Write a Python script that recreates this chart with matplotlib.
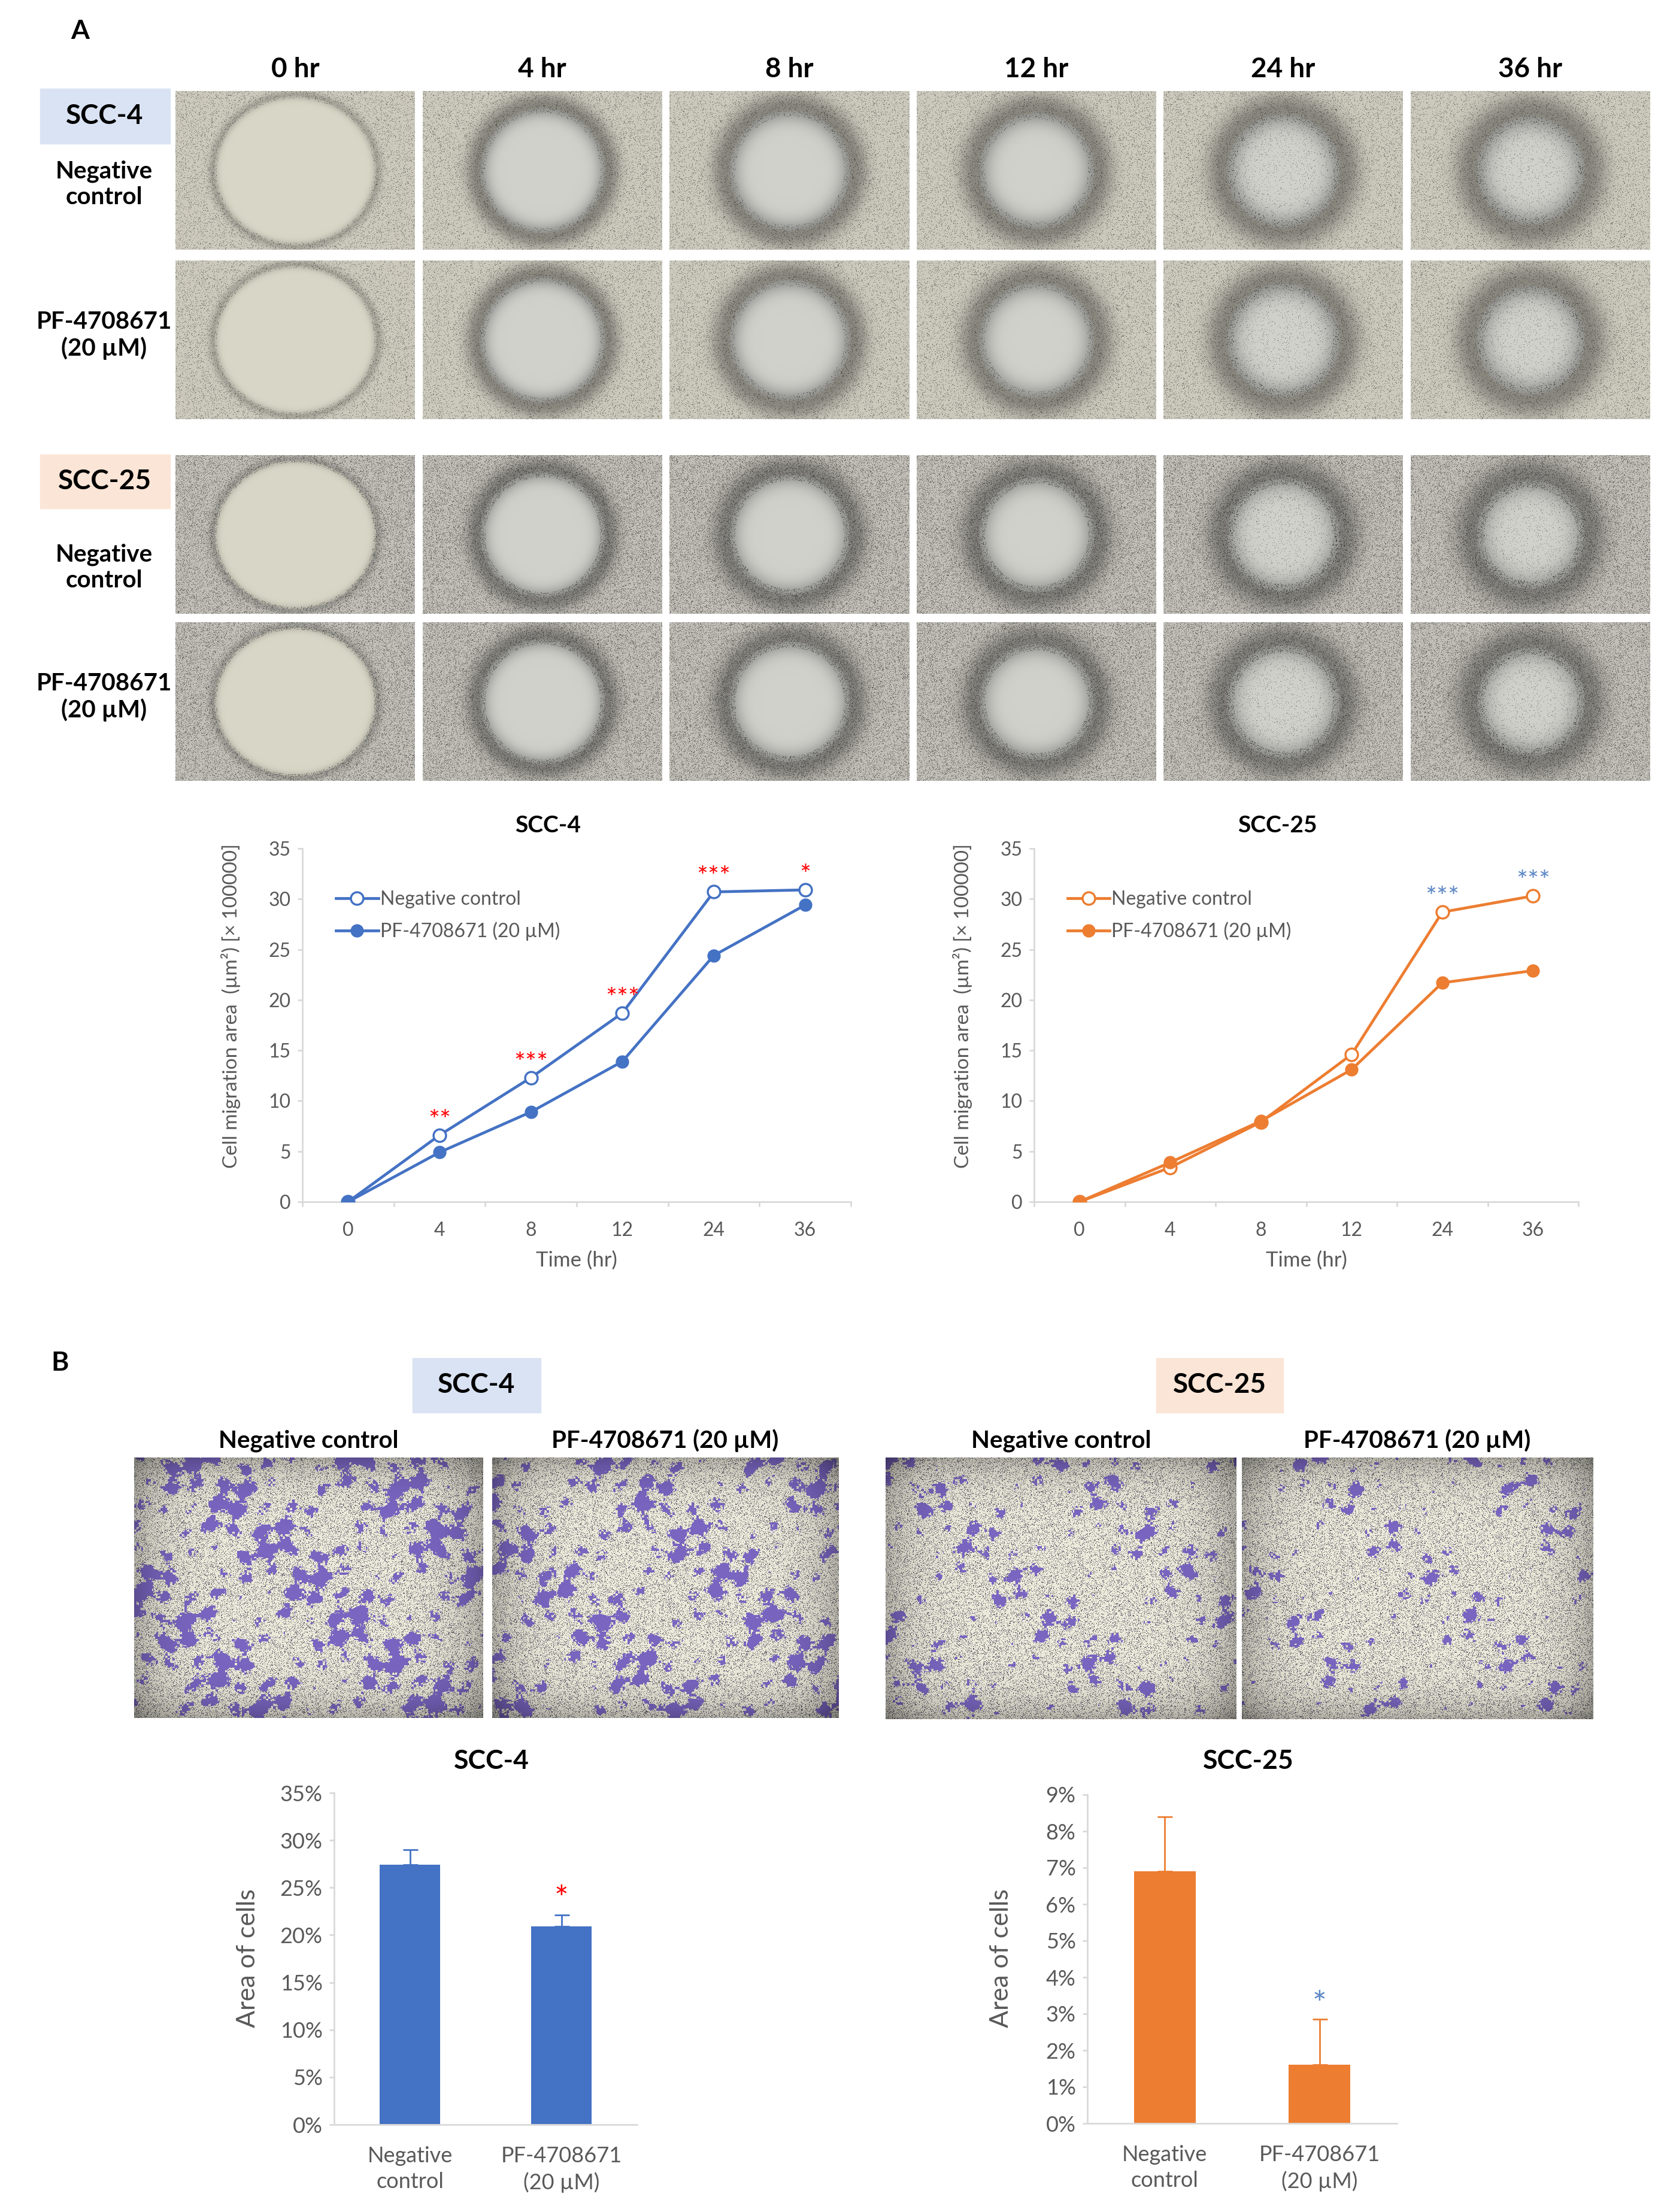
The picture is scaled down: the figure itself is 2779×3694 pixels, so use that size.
import numpy as np
import matplotlib
matplotlib.use("Agg")
import matplotlib.pyplot as plt
from matplotlib.patches import Rectangle
from matplotlib.ticker import PercentFormatter

plt.rcParams['font.family'] = ['Lato', 'DejaVu Sans']

# ------------------------------------------------------------
# DATA
# ------------------------------------------------------------
time_points = ["0", "4", "8", "12", "24", "36"]
time_headers = ["0 hr", "4 hr", "8 hr", "12 hr", "24 hr", "36 hr"]

# cell migration area, x 100000 um^2
scc4_ctrl = [0.0, 6.6, 12.3, 18.7, 30.7, 30.9]
scc4_ctrl_err = [0.1, 0.2, 0.3, 0.3, 0.2, 0.3]
scc4_pf = [0.0, 4.9, 8.9, 13.9, 24.4, 29.4]
scc4_pf_err = [0.1, 0.2, 0.2, 0.3, 0.3, 0.4]
scc4_sig = ["", "**", "***", "***", "***", "*"]

scc25_ctrl = [0.0, 3.4, 7.9, 14.6, 28.7, 30.3]
scc25_ctrl_err = [0.1, 0.2, 0.2, 0.4, 0.3, 0.3]
scc25_pf = [0.0, 3.9, 8.0, 13.1, 21.7, 22.9]
scc25_pf_err = [0.1, 0.2, 0.2, 0.4, 0.5, 0.5]
scc25_sig = ["", "", "", "", "***", "***"]

# transwell: area of cells (%)
bar_groups = ["Negative\ncontrol", "PF-4708671\n(20 µM)"]
scc4_area = [27.4, 20.9]
scc4_area_err = [1.6, 1.2]
scc4_area_sig = ["", "*"]
scc25_area = [6.9, 1.6]
scc25_area_err = [1.5, 1.25]
scc25_area_sig = ["", "*"]

BLUE = "#4472C4"
ORANGE = "#ED7D31"
GREY_TXT = "#595959"
AXIS_GREY = "#D9D9D9"
BOX_BLUE = "#DAE3F3"
BOX_PEACH = "#FBE5D6"

W, H = 2779, 3694
fig = plt.figure(figsize=(W / 100, H / 100), dpi=100)


def add_ax(x0, y0, x1, y1):
    # pixel box (top-left origin) -> figure axes
    return fig.add_axes([x0 / W, 1 - y1 / H, (x1 - x0) / W, (y1 - y0) / H])


def ftext(x, y, s, **kw):
    kw.setdefault("ha", "center")
    kw.setdefault("va", "center")
    fig.text(x / W, 1 - y / H, s, **kw)


def fbox(x0, y0, x1, y1, color):
    fig.patches.append(Rectangle((x0 / W, 1 - y1 / H), (x1 - x0) / W, (y1 - y0) / H,
                                 transform=fig.transFigure, color=color, zorder=0))


def hash2(xx, yy, seed):
    v = np.sin(xx * 12.9898 + yy * 78.233 + seed * 37.719) * 43758.5453
    return v - np.floor(v)


# ------------------------------------------------------------
# PLACEHOLDER MICROSCOPY TILES (decoration only, not data)
# ------------------------------------------------------------
def wound_tile(col, seed, dense, h=265, w=400):
    yy, xx = np.mgrid[0:h, 0:w].astype(float)
    r = np.hypot((xx - w / 2) * (0.92 if col == 0 else 1.0), yy - h / 2)
    radius = [124, 104, 100, 96, 94, 90][col]
    ring = [8, 20, 24, 26, 28, 30][col]
    bg = [0.80, 0.79, 0.74] if not dense else [0.76, 0.75, 0.72]
    img = np.ones((h, w, 3)) * np.array(bg)
    inner = [0.85, 0.84, 0.78] if col == 0 else [0.82, 0.82, 0.80]
    img[r < radius] = inner
    ringmask = np.exp(-((r - radius - ring * 0.3) / ring) ** 2)
    img *= (1 - (0.18 if col == 0 else 0.33) * ringmask)[..., None]
    n = hash2(xx, yy, seed)
    thr = 0.80 if dense else 0.90
    spk = (n > thr) & (r > radius - ring * 0.4)
    img[spk] *= 0.6
    if col >= 4:
        img[(n > 0.95) & (r < radius)] *= 0.65
    return np.clip(img, 0, 1)


def transwell_tile(level, seed, h=436, w=584):
    yy, xx = np.mgrid[0:h, 0:w].astype(float)
    img = np.ones((h, w, 3)) * np.array([0.93, 0.92, 0.86])
    n = hash2(xx, yy, seed)
    img[n > 0.82] = [0.40, 0.39, 0.44]
    blob = (np.sin(0.15 * xx + 1.7 * np.sin(0.041 * yy + seed))
            + np.sin(0.17 * yy + 1.3 * np.sin(0.053 * xx + 1.0))
            + np.sin(0.047 * (xx + yy) + seed)
            + np.sin(0.021 * (xx - yy) + 2.0 * seed)
            + 1.8 * hash2(xx // 4, yy // 4, seed + 1))
    img[blob > (3.7 - 2.0 * level)] = [0.48, 0.40, 0.76]
    vig = 1 - 0.25 * (((xx - w / 2) / (w / 2)) ** 6 + ((yy - h / 2) / (h / 2)) ** 6)
    img *= vig[..., None]
    return np.clip(img, 0, 1)


def show_img(box, img):
    ax = add_ax(*box)
    ax.imshow(img, aspect="auto", interpolation="nearest")
    ax.axis("off")


# ------------------------------------------------------------
# PANEL A: wound-healing tiles
# ------------------------------------------------------------
ftext(134, 52, "A", fontsize=32, fontweight="bold")
tile_x = [293 + i * 412.5 for i in range(6)]
tile_rows = [152, 435, 760, 1039]
for i, lab in enumerate(time_headers):
    ftext(tile_x[i] + 200, 116, lab, fontsize=33, fontweight="bold")
for r, y0 in enumerate(tile_rows):
    for c, x0 in enumerate(tile_x):
        show_img((x0, y0, x0 + 400, y0 + 265), wound_tile(c, r * 6 + c, dense=(r >= 2)))

fbox(67, 148, 284, 240, BOX_BLUE)
ftext(175, 194, "SCC-4", fontsize=33, fontweight="bold")
ftext(174, 308, "Negative\ncontrol", fontsize=29, fontweight="bold", linespacing=1.2)
ftext(174, 560, "PF-4708671\n(20 µM)", fontsize=29, fontweight="bold", linespacing=1.2)
fbox(67, 759, 284, 849, BOX_PEACH)
ftext(175, 804, "SCC-25", fontsize=33, fontweight="bold")
ftext(174, 948, "Negative\ncontrol", fontsize=29, fontweight="bold", linespacing=1.2)
ftext(174, 1164, "PF-4708671\n(20 µM)", fontsize=29, fontweight="bold", linespacing=1.2)


# ------------------------------------------------------------
# PANEL A: migration line charts
# ------------------------------------------------------------
def style_axes(ax):
    for s in ["top", "right"]:
        ax.spines[s].set_visible(False)
    for s in ["left", "bottom"]:
        ax.spines[s].set_color(AXIS_GREY)
        ax.spines[s].set_linewidth(2)


def line_chart(box, title, ctrl, ctrl_err, pf, pf_err, sig, color, sig_color):
    x0, y0, x1, y1 = box
    ax = add_ax(*box)
    x = np.arange(len(time_points))
    ax.errorbar(x, ctrl, yerr=ctrl_err, fmt="none", ecolor=color, elinewidth=1.5, capsize=3, zorder=2)
    ax.errorbar(x, pf, yerr=pf_err, fmt="none", ecolor=color, elinewidth=1.5, capsize=3, zorder=2)
    ax.plot(x, ctrl, color=color, lw=3.4, marker="o", ms=15, mfc="white", mec=color, mew=2.5,
            label="Negative control", zorder=3)
    ax.plot(x, pf, color=color, lw=3.4, marker="o", ms=15, mfc=color, mec=color,
            label="PF-4708671 (20 µM)", zorder=3)
    for xi, yi, s in zip(x, ctrl, sig):
        if s:
            ax.text(xi, yi + 1.4, s, ha="center", va="center", color=sig_color, fontsize=32)
    ax.set_xlim(-0.5, len(x) - 0.5)
    ax.set_ylim(0, 35)
    ax.set_yticks(range(0, 36, 5))
    ax.set_xticks(x)
    ax.set_xticklabels(time_points)
    ax.set_xticks(np.arange(-0.5, len(x), 1), minor=True)
    ax.tick_params(axis="x", which="major", length=0, pad=24, labelsize=23, labelcolor=GREY_TXT)
    ax.tick_params(axis="x", which="minor", length=6, width=2, color=AXIS_GREY)
    ax.tick_params(axis="y", length=6, width=2, color=AXIS_GREY, pad=8, labelsize=23, labelcolor=GREY_TXT)
    style_axes(ax)
    ax.legend(loc="upper left", bbox_to_anchor=(0.03, 0.93), frameon=False, fontsize=23,
              labelcolor=GREY_TXT, handlelength=2.2, handletextpad=0.1, labelspacing=0.7)
    ftext((x0 + x1) / 2 - 48, 1378, title, fontsize=28, fontweight="bold")
    ftext((x0 + x1) / 2, 2105, "Time (hr)", fontsize=25, color=GREY_TXT)
    ftext(x0 - 120, 1680, "Cell migration area  (µm²) [× 100000]", fontsize=24,
          color=GREY_TXT, rotation=90)


line_chart((505, 1417, 1421, 2007), "SCC-4", scc4_ctrl, scc4_ctrl_err, scc4_pf, scc4_pf_err,
           scc4_sig, BLUE, "#FF0000")
line_chart((1727, 1417, 2636, 2007), "SCC-25", scc25_ctrl, scc25_ctrl_err, scc25_pf, scc25_pf_err,
           scc25_sig, ORANGE, "#5B87C5")

# ------------------------------------------------------------
# PANEL B: transwell images
# ------------------------------------------------------------
ftext(100, 2276, "B", fontsize=32, fontweight="bold")
fbox(689, 2268, 903, 2359, BOX_BLUE)
ftext(796, 2313, "SCC-4", fontsize=33, fontweight="bold")
fbox(1931, 2268, 2143, 2359, BOX_PEACH)
ftext(2037, 2313, "SCC-25", fontsize=33, fontweight="bold")
for cx, lab in zip([515, 1111, 1772, 2367],
                   ["Negative control", "PF-4708671 (20 µM)", "Negative control", "PF-4708671 (20 µM)"]):
    ftext(cx, 2406, lab, fontsize=29, fontweight="bold")
show_img((224, 2434, 806, 2869), transwell_tile(0.85, 3))
show_img((822, 2434, 1401, 2869), transwell_tile(0.72, 5))
show_img((1479, 2434, 2065, 2871), transwell_tile(0.40, 7))
show_img((2074, 2434, 2661, 2871), transwell_tile(0.25, 9))


# ------------------------------------------------------------
# PANEL B: area bar charts
# ------------------------------------------------------------
def bar_chart(box, title, vals, errs, sig, color, sig_color, ymax, step, star_off):
    x0, y0, x1, y1 = box
    ax = add_ax(*box)
    x = np.arange(len(bar_groups))
    ax.bar(x, vals, width=0.4, color=color, zorder=2)
    ax.errorbar(x, vals, yerr=[[0] * len(errs), errs], fmt="none", ecolor=color,
                elinewidth=2, capsize=9, capthick=2, zorder=3)
    for xi, v, e, s in zip(x, vals, errs, sig):
        if s:
            ax.annotate(s, (xi, v + e), xytext=(0, star_off), textcoords="offset points",
                        ha="center", va="center", color=sig_color, fontsize=40)
    ax.set_xlim(-0.5, len(x) - 0.5)
    ax.set_ylim(0, ymax)
    ax.set_yticks(np.arange(0, ymax + step / 2, step))
    ax.yaxis.set_major_formatter(PercentFormatter(decimals=0))
    ax.set_xticks(x)
    ax.set_xticklabels(bar_groups, linespacing=1.35)
    ax.tick_params(axis="x", length=0, pad=26, labelsize=26, labelcolor=GREY_TXT)
    ax.tick_params(axis="y", length=6, width=2, color=AXIS_GREY, pad=8, labelsize=26, labelcolor=GREY_TXT)
    style_axes(ax)
    ftext((x0 + x1) / 2 + 10, 2941, title, fontsize=32, fontweight="bold")
    ftext(x0 - 144, 3270, "Area of cells", fontsize=31, color=GREY_TXT, rotation=90)


bar_chart((558, 2994, 1064, 3548), "SCC-4", scc4_area, scc4_area_err, scc4_area_sig, BLUE,
          "#FF0000", 35, 5, 18)
bar_chart((1816, 2997, 2333, 3546), "SCC-25", scc25_area, scc25_area_err, scc25_area_sig, ORANGE,
          "#5B87C5", 9, 1, 16)

fig.savefig("out.png", dpi=100)
